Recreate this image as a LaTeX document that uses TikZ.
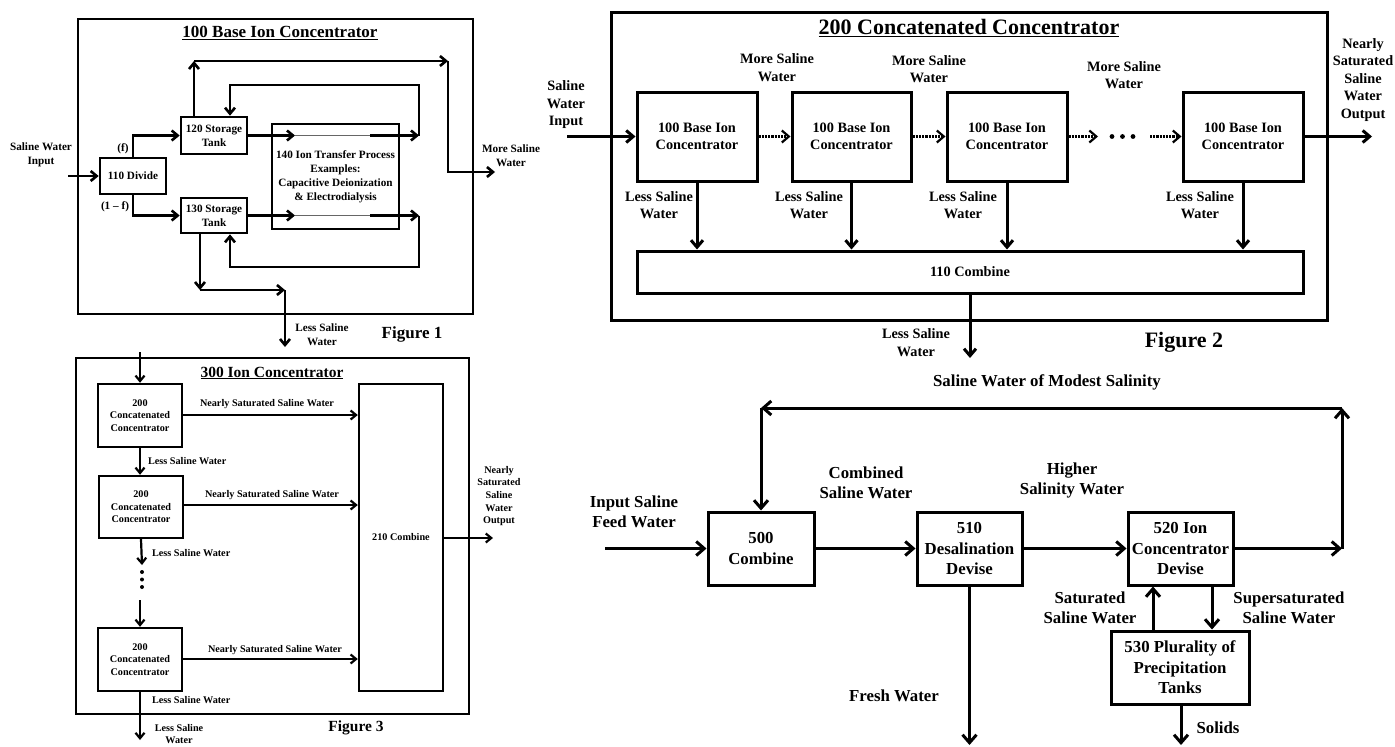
\documentclass[tikz,border=0pt]{standalone}
\usepackage{fontspec}
\setmainfont{Liberation Serif}
\usetikzlibrary{arrows.meta}
\newcommand\fa{\fontsize{11.2}{14}\selectfont\bfseries}
\newcommand\fat{\fontsize{17}{20}\selectfont\bfseries}
\newcommand\fb{\fontsize{14.3}{17.5}\selectfont\bfseries}
\newcommand\fbt{\fontsize{22}{26}\selectfont\bfseries}
\newcommand\fc{\fontsize{10.2}{12.6}\selectfont\bfseries}
\newcommand\fct{\fontsize{15.5}{18}\selectfont\bfseries}
\newcommand\fd{\fontsize{16.8}{20.5}\selectfont\bfseries}
\tikzset{
  bx/.style={draw, fill=white, inner sep=0pt, align=center},
  lb/.style={inner sep=0pt, align=center},
  tA/.style={-{Straight Barb[length=6pt,width=10pt]}},
  tB/.style={-{Straight Barb[length=7pt,width=12pt]}},
  tC/.style={-{Straight Barb[length=5.5pt,width=9pt]}},
  tD/.style={-{Straight Barb[length=8pt,width=14pt]}},
}
\begin{document}
\begin{tikzpicture}[x=1pt,y=-1pt]
\fill[white] (0,0) rectangle (1395,747);
\useasboundingbox (0,0) rectangle (1395,747);

% ================= Figure 1 =================
\begin{scope}[line width=2.6pt]
\node[bx,line width=2.6pt,minimum width=395pt,minimum height=295pt] (F1) at (275.5,166.5) {};
\node[lb,font=\fat] (T1) at (280,33) {\underline{100 Base Ion Concentrator}};
\node[bx,line width=2.6pt,minimum width=66pt,minimum height=36pt,font=\fa] (div) at (133,176) {110 Divide};
\node[bx,line width=2.6pt,minimum width=66pt,minimum height=37pt,font=\fa] (s120) at (214,135.5) {120 Storage\\Tank};
\node[bx,line width=2.6pt,minimum width=66pt,minimum height=35pt,font=\fa] (s130) at (214,215.5) {130 Storage\\Tank};
\node[bx,line width=2.6pt,minimum width=127pt,minimum height=105pt,font=\fa] (p140) at (335.5,176.5) {140 Ion Transfer Process\\Examples:\\Capacitive Deionization\\\& Electrodialysis};

\coordinate (in1) at (68,176);
\draw[tA] (in1) -- (div.west);
\draw[tA] (div.north) |- (s120.west);
\draw[tA] (div.south) |- (s130.west);

\coordinate (a1) at (295,135.5);
\coordinate (h1) at (370,135.5);
\coordinate (b1) at (419,135.5);
\coordinate (k1) at (230,85);
\draw[tA] (s120.east) -- (a1);
\draw[line width=1pt,black!60] (a1) -- (h1);
\draw[tA] (h1) -- (b1);
\draw[tA] (b1) |- (k1) -- (k1 |- s120.north);

\coordinate (a2) at (295,215.5);
\coordinate (h2) at (370,215.5);
\coordinate (b2) at (419,215.5);
\coordinate (k2) at (230,267);
\draw[tA] (s130.east) -- (a2);
\draw[line width=1pt,black!60] (a2) -- (h2);
\draw[tA] (h2) -- (b2);
\draw[tA] (b2) |- (k2) -- (k2 |- s130.south);

\coordinate (m1) at (194,61);
\coordinate (m2) at (448,61);
\coordinate (m3) at (448,172);
\coordinate (m4) at (495,172);
\draw[tA] (m1 |- s120.north) -- (m1);
\draw[tA] (m1) -- (m2);
\draw[tA] (m2) -- (m3) -- (m4);

\coordinate (n1) at (200,290);
\coordinate (n2) at (285,290);
\coordinate (n3) at (285,347);
\draw[tA] (n1 |- s130.south) -- (n1);
\draw[tA] (n1) -- (n2);
\draw[tA] (n2) -- (n3);

\node[lb,font=\fa] (L1a) at (41,155) {Saline Water\\Input};
\node[lb,font=\fa] (L1b) at (123,149) {(f)};
\node[lb,font=\fa] (L1c) at (115,207) {(1 -- f)};
\node[lb,font=\fa] (L1d) at (511,156) {More Saline\\Water};
\node[lb,font=\fa] (L1e) at (322,334.5) {Less Saline\\Water};
\node[lb,font=\fat] (G1) at (412,334) {Figure 1};
\end{scope}

% ================= Figure 2 =================
\begin{scope}[line width=3pt]
\node[bx,line width=3pt,minimum width=716pt,minimum height=308pt] (F2) at (969,166) {};
\node[lb,font=\fbt] (T2) at (969,28) {\underline{200 Concatenated Concentrator}};
\node[bx,line width=3pt,minimum width=120pt,minimum height=89pt,font=\fb] (b1n) at (697,136.5) {100 Base Ion\\Concentrator};
\node[bx,line width=3pt,minimum width=119pt,minimum height=89pt,font=\fb] (b2n) at (851.5,136.5) {100 Base Ion\\Concentrator};
\node[bx,line width=3pt,minimum width=120pt,minimum height=89pt,font=\fb] (b3n) at (1007,136.5) {100 Base Ion\\Concentrator};
\node[bx,line width=3pt,minimum width=120pt,minimum height=89pt,font=\fb] (b4n) at (1243,136.5) {100 Base Ion\\Concentrator};
\node[bx,line width=3pt,minimum width=666pt,minimum height=42pt,font=\fb] (cmb) at (970,272) {110 Combine};

\coordinate (in2) at (567,136.5);
\draw[tB] (in2) -- (b1n.west);
\draw[tB,densely dotted,line width=2.2pt] (b1n.east) -- (b2n.west);
\draw[tB,densely dotted,line width=2.2pt] (b2n.east) -- (b3n.west);
\coordinate (d1) at (1098,136.5);
\coordinate (d2) at (1150,136.5);
\draw[tB,densely dotted,line width=2.2pt] (b3n.east) -- (d1);
\draw[tB,densely dotted,line width=2.2pt] (d2) -- (b4n.west);
\fill (1112,136.5) circle (2.4pt);
\fill (1122.5,136.5) circle (2.4pt);
\fill (1133,136.5) circle (2.4pt);
\coordinate (o2) at (1372,136.5);
\draw[tB] (b4n.east) -- (o2);
\draw[tB] (b1n.south) -- (b1n.south |- cmb.north);
\draw[tB] (b2n.south) -- (b2n.south |- cmb.north);
\draw[tB] (b3n.south) -- (b3n.south |- cmb.north);
\draw[tB] (b4n.south) -- (b4n.south |- cmb.north);
\coordinate (o2b) at (970,358);
\draw[tB] (cmb.south) -- (o2b);

\node[lb,font=\fb] (L2a) at (566,105) {Saline\\Water\\Input};
\node[lb,font=\fb] (L2b) at (777,67.5) {More Saline\\Water};
\node[lb,font=\fb] (L2c) at (929,69) {More Saline\\Water};
\node[lb,font=\fb] (L2d) at (1124,75) {More Saline\\Water};
\node[lb,font=\fb] (L2e) at (1363,80) {Nearly\\Saturated\\Saline\\Water\\Output};
\node[lb,font=\fb] (L2f) at (659,205) {Less Saline\\Water};
\node[lb,font=\fb] (L2g) at (809,205) {Less Saline\\Water};
\node[lb,font=\fb] (L2h) at (963,205) {Less Saline\\Water};
\node[lb,font=\fb] (L2i) at (1200,205) {Less Saline\\Water};
\node[lb,font=\fb] (L2j) at (916,342.5) {Less Saline\\Water};
\node[lb,font=\fbt] (G2) at (1184,342) {Figure 2};
\end{scope}

% ================= Figure 3 =================
\begin{scope}[line width=2.2pt]
\node[bx,line width=2.2pt,minimum width=393pt,minimum height=356pt] (F3) at (272.5,536) {};
\node[lb,font=\fct] (T3) at (272,373) {\underline{300 Ion Concentrator}};
\node[bx,line width=2.4pt,minimum width=84pt,minimum height=63pt,font=\fc] (cA) at (140,415.5) {200\\Concatenated\\Concentrator};
\node[bx,line width=2.4pt,minimum width=84pt,minimum height=62pt,font=\fc] (cB) at (141,507) {200\\Concatenated\\Concentrator};
\node[bx,line width=2.4pt,minimum width=84pt,minimum height=63pt,font=\fc] (cC) at (140,659.5) {200\\Concatenated\\Concentrator};
\node[bx,line width=2.4pt,minimum width=84pt,minimum height=307pt,font=\fc] (c210) at (401,537.5) {210 Combine};

\coordinate (t3) at (140,352);
\draw[tC] (t3) -- (cA.north);
\draw[tC] (cA.south) -- (cA.south |- cB.north);
\coordinate (e1) at (142,565);
\draw[tC] (cB.south) -- (e1);
\fill (142,572) circle (2pt);
\fill (142,579.5) circle (2pt);
\fill (142,587) circle (2pt);
\coordinate (e2) at (140,600);
\draw[tC] (e2) -- (cC.north);
\coordinate (e3) at (140,740);
\draw[tC] (cC.south) -- (e3);
\coordinate (y1) at (0,415);
\coordinate (y2) at (0,505);
\coordinate (y3) at (0,659);
\draw[tC] (cA.east |- y1) -- (c210.west |- y1);
\draw[tC] (cB.east |- y2) -- (c210.west |- y2);
\draw[tC] (cC.east |- y3) -- (c210.west |- y3);
\coordinate (o3) at (493,538);
\draw[tC] (c210.east |- o3) -- (o3);

\node[lb,font=\fc,anchor=west] (L3a) at (147,461) {Less Saline Water};
\node[lb,font=\fc,anchor=west] (L3b) at (151,553) {Less Saline Water};
\node[lb,font=\fc,anchor=west] (L3c) at (151,700) {Less Saline Water};
\node[lb,font=\fc] (L3d) at (179,734) {Less Saline\\Water};
\node[lb,font=\fc] (L3e) at (267,404) {Nearly Saturated Saline Water};
\node[lb,font=\fc] (L3f) at (272,495) {Nearly Saturated Saline Water};
\node[lb,font=\fc] (L3g) at (275,650) {Nearly Saturated Saline Water};
\node[lb,font=\fc] (L3h) at (499,496) {Nearly\\Saturated\\Saline\\Water\\Output};
\node[lb,font=\fct] (G3) at (356,728) {Figure 3};
\end{scope}

% ================= Figure 4 =================
\begin{scope}[line width=3pt]
\node[bx,line width=3pt,minimum width=106pt,minimum height=73pt,font=\fd] (c500) at (761,548.5) {500\\Combine};
\node[bx,line width=3pt,minimum width=105pt,minimum height=73pt,font=\fd] (d510) at (969.5,548.5) {510\\Desalination\\Devise};
\node[bx,line width=3pt,minimum width=105pt,minimum height=73pt,font=\fd] (i520) at (1180.5,548.5) {520 Ion\\Concentrator\\Devise};
\node[bx,line width=3pt,minimum width=138pt,minimum height=73pt,font=\fd] (p530) at (1180,667.5) {530 Plurality of\\Precipitation\\Tanks};

\coordinate (in4) at (605,548.5);
\draw[tD] (in4) -- (c500.west);
\draw[tD] (c500.east) -- (d510.west);
\draw[tD] (d510.east) -- (i520.west);
\coordinate (r1) at (1342,548.5);
\coordinate (r2) at (1342,408);
\coordinate (r3) at (761,408);
\draw[tD] (i520.east) -- (r1);
\draw[tD] (r1) -- (r2);
\draw[tD] (r2) -- (r3);
\draw[tD] (r3) -- (c500.north);
\coordinate (fw) at (969.5,745);
\draw[tD] (d510.south) -- (fw);
\coordinate (s1) at (1153,630);
\coordinate (s2) at (1212,630);
\draw[tD] (s1 |- p530.north) -- (s1 |- i520.south);
\draw[tD] (s2 |- i520.south) -- (s2 |- p530.north);
\coordinate (so) at (1181,745);
\draw[tD] (p530.south -| so) -- (so);

\node[lb,font=\fd] (L4a) at (1047,382) {Saline Water of Modest Salinity};
\node[lb,font=\fd] (L4b) at (634,512) {Input Saline\\Feed Water};
\node[lb,font=\fd] (L4c) at (866,483) {Combined\\Saline Water};
\node[lb,font=\fd] (L4d) at (1072,480.5) {Higher\\Salinity Water};
\node[lb,font=\fd] (L4e) at (894,696) {Fresh Water};
\node[lb,font=\fd] (L4f) at (1090,608) {Saturated\\Saline Water};
\node[lb,font=\fd] (L4g) at (1289,608) {Supersaturated\\Saline Water};
\node[lb,font=\fd] (L4h) at (1218,728) {Solids};
\end{scope}
\end{tikzpicture}
\end{document}
